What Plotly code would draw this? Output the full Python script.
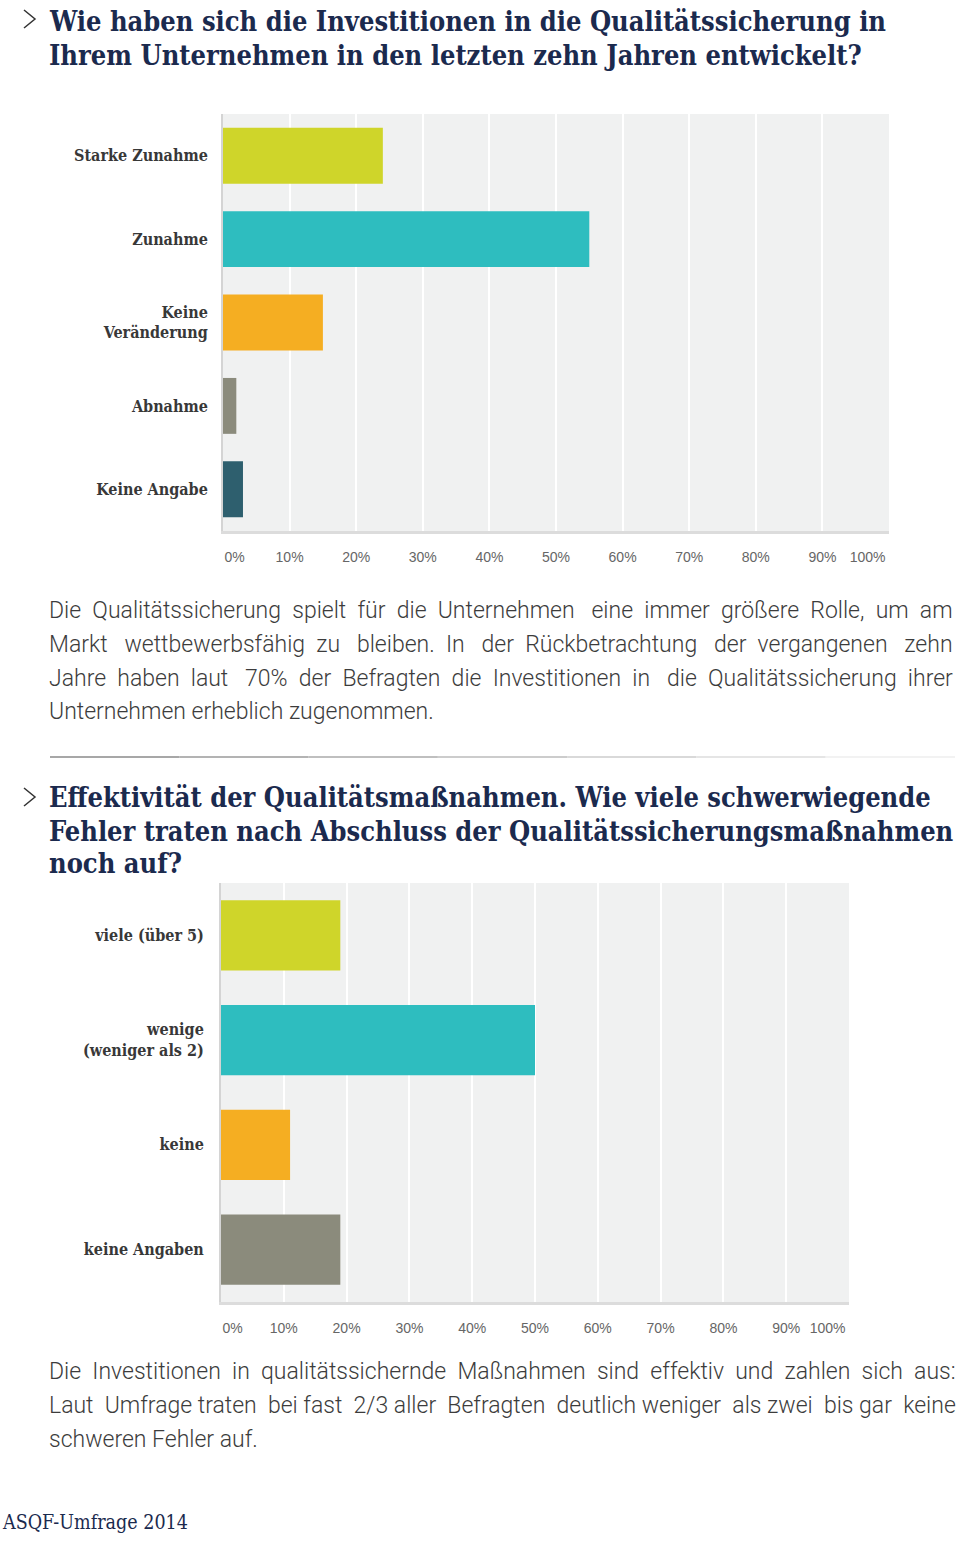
import plotly.graph_objects as go

W, H = 960, 1541

# ---------------- data ----------------
q1_categories = ["Starke Zunahme", "Zunahme", "Keine<br>Veränderung", "Abnahme", "Keine Angabe"]
q1_values = [24, 55, 15, 2, 3]
q1_colors = ["#cfd52a", "#2ebdbf", "#f5ae22", "#8b8b7c", "#2e5f6e"]

q2_categories = ["viele (über 5)", "wenige<br>(weniger als 2)", "keine", "keine Angaben"]
q2_values = [19, 50, 11, 19]
q2_colors = ["#cfd52a", "#2ebdbf", "#f5ae22", "#8b8b7c"]

tick_vals = [0, 10, 20, 30, 40, 50, 60, 70, 80, 90, 100]
tick_text = ["0%", "10%", "20%", "30%", "40%", "50%", "60%", "70%", "80%", "90%", "100%"]

title1 = ["Wie haben sich die Investitionen in die Qualitätssicherung in",
          "Ihrem Unternehmen in den letzten zehn Jahren entwickelt?"]
body1 = ["Die Qualitätssicherung spielt für die Unternehmen eine immer größere Rolle, um am",
         "Markt wettbewerbsfähig zu bleiben. In der Rückbetrachtung der vergangenen zehn",
         "Jahre haben laut 70% der Befragten die Investitionen in die Qualitätssicherung ihrer",
         "Unternehmen erheblich zugenommen."]
title2 = ["Effektivität der Qualitätsmaßnahmen. Wie viele schwerwiegende",
          "Fehler traten nach Abschluss der Qualitätssicherungsmaßnahmen",
          "noch auf?"]
body2 = ["Die Investitionen in qualitätssichernde Maßnahmen sind effektiv und zahlen sich aus:",
         "Laut Umfrage traten bei fast 2/3 aller Befragten deutlich weniger als zwei bis gar keine",
         "schweren Fehler auf."]
footer = "ASQF-Umfrage 2014"

# extra word-gap padding per line to imitate the justified text block
body1_pad = [12, 14, 13, 0]
body2_pad = [10, 8, 0]


def px(x):
    return x / W


def py(y):
    return 1 - y / H


def justify(text, extra):
    words = text.split(" ")
    gaps = len(words) - 1
    if extra <= 0 or gaps <= 0:
        return text
    out = words[0]
    acc = 0.0
    given = 0
    for i in range(gaps):
        acc += extra / gaps
        k = int(round(acc)) - given
        given += k
        out += " " + "\u00a0" * k + words[i + 1]
    return out


# first label sits inside the left edge, last one inside the right edge
nb = "\u00a0"
tick_labels = [nb * 6 + tick_text[0]] + tick_text[1:-1] + [tick_text[-1] + nb * 11]

fig = go.Figure()
fig.add_trace(go.Bar(y=q1_categories, x=q1_values, orientation="h",
                     marker=dict(color=q1_colors, line=dict(width=0)),
                     xaxis="x", yaxis="y", hoverinfo="x+y", showlegend=False))
fig.add_trace(go.Bar(y=q2_categories, x=q2_values, orientation="h",
                     marker=dict(color=q2_colors, line=dict(width=0)),
                     xaxis="x2", yaxis="y2", hoverinfo="x+y", showlegend=False))

cat_font = dict(family="DejaVu Serif Condensed, DejaVu Serif, serif", size=16, color="#383838", weight="bold")
tick_font = dict(family="Liberation Sans, Arial, sans-serif", size=14, color="#666666")

xaxis_common = dict(range=[0, 100], tickmode="array", tickvals=tick_vals, ticktext=tick_labels,
                    showgrid=True, gridcolor="#ffffff", gridwidth=2, zeroline=False,
                    showline=True, linecolor="#dcdcdc", linewidth=3, ticks="",
                    tickfont=tick_font, ticklabelstandoff=11, fixedrange=True, automargin=False)
yaxis_common = dict(showgrid=False, zeroline=False, showline=True, linecolor="#d4d4d4",
                    linewidth=2, ticks="", tickfont=cat_font, autorange="reversed",
                    fixedrange=True, automargin=False)

fig.update_layout(
    template="none",
    width=W, height=H, autosize=False,
    margin=dict(l=0, r=0, t=0, b=0, pad=0, autoexpand=False),
    paper_bgcolor="#ffffff",
    plot_bgcolor="#f0f1f1",
    bargap=0.33,
    xaxis=dict(domain=[px(223), px(889)], anchor="y", **xaxis_common),
    yaxis=dict(domain=[py(531), py(114)], anchor="x", ticklabelstandoff=10, **yaxis_common),
    xaxis2=dict(domain=[px(221), px(849)], anchor="y2", **xaxis_common),
    yaxis2=dict(domain=[py(1302), py(883)], anchor="x2", ticklabelstandoff=12, **yaxis_common),
    showlegend=False,
)

annotations = []
title_font = dict(family="DejaVu Serif Condensed, DejaVu Serif, serif", size=27, color="#1b2a4e", weight="bold")
body_font = dict(family="Roboto, sans-serif", size=23, color="#3c3c3c", weight=300)


def add_lines(lines, ys, font, pads=None):
    pads = pads or [0] * len(lines)
    for t, y, p in zip(lines, ys, pads):
        annotations.append(dict(text=justify(t, p), x=px(47), y=py(y), xref="paper", yref="paper",
                                xanchor="left", yanchor="middle", showarrow=False, font=font))


add_lines(title1, [22, 55], title_font)
add_lines(body1, [610, 644, 678, 712], body_font, body1_pad)
add_lines(title2, [797, 831, 864], title_font)
add_lines(body2, [1371, 1405, 1439], body_font, body2_pad)
annotations.append(dict(text=footer, x=0, y=py(1522), xref="paper", yref="paper",
                        xanchor="left", yanchor="middle", showarrow=False,
                        font=dict(family="DejaVu Serif Condensed, DejaVu Serif, serif", size=19.5, color="#1b2a4e")))
fig.update_layout(annotations=annotations)

shapes = []
# chevrons
for yc in [19, 797]:
    shapes.append(dict(type="path", xref="paper", yref="paper",
                       path=f"M {px(24)} {py(yc-9)} L {px(35)} {py(yc)} L {px(24)} {py(yc+9)}",
                       line=dict(color="#333333", width=1.5)))
# separator with fade
seg_colors = ["#8a8a8a", "#9a9a9a", "#aaaaaa", "#bbbbbb", "#cccccc", "#dddddd", "#eeeeee"]
x0, x1 = 50, 955
n = len(seg_colors)
for i, c in enumerate(seg_colors):
    a = x0 + (x1 - x0) * i / n
    b = x0 + (x1 - x0) * (i + 1) / n
    shapes.append(dict(type="line", xref="paper", yref="paper", x0=px(a), x1=px(b),
                       y0=py(757), y1=py(757), line=dict(color=c, width=1.5)))
fig.update_layout(shapes=shapes)

fig.write_html("out.html")
